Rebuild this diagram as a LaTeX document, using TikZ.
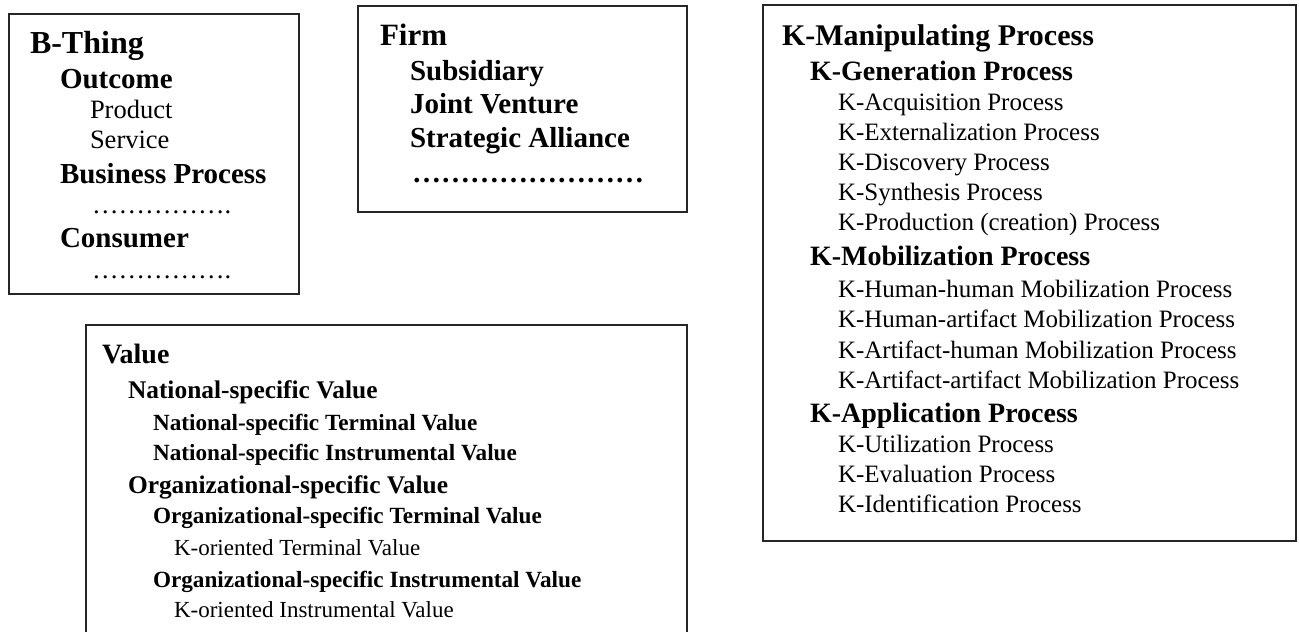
\documentclass[tikz,border=0pt]{standalone}
\usepackage{fontspec}
\setmainfont{Liberation Serif}
\newcommand{\elp}{\char"2026}
\begin{document}
\begin{tikzpicture}[x=1pt,y=-1pt,
  box/.style={draw=black!85,line width=1.5pt,anchor=north west,inner sep=0pt},
  lbl/.style={anchor=base west,inner sep=0pt,outer sep=0pt},
  hA/.style={lbl,font=\fontsize{32}{38}\selectfont\bfseries},
  hB/.style={lbl,font=\fontsize{29}{35}\selectfont\bfseries},
  hC/.style={lbl,font=\fontsize{26.5}{32}\selectfont},
  kA/.style={lbl,font=\fontsize{30}{36}\selectfont\bfseries},
  kB/.style={lbl,font=\fontsize{28}{34}\selectfont\bfseries},
  kC/.style={lbl,font=\fontsize{25}{30}\selectfont},
  vA/.style={lbl,font=\fontsize{28}{34}\selectfont\bfseries},
  vB/.style={lbl,font=\fontsize{25.4}{30}\selectfont\bfseries},
  vC/.style={lbl,font=\fontsize{23.2}{28}\selectfont\bfseries},
  vD/.style={lbl,font=\fontsize{23}{28}\selectfont}]
\clip (0,0) rectangle (1299,632);
% boxes
\node[box,minimum width=290pt,minimum height=280pt] (bthingbox) at (8,13) {};
\node[box,minimum width=329pt,minimum height=206pt] (firmbox) at (357,5) {};
\node[box,minimum width=533pt,minimum height=536pt] (kbox) at (762,4) {};
\node[box,minimum width=601pt,minimum height=330pt] (valbox) at (85,324) {};
% B-Thing
\node[hA] (bt) at (30,53) {B-Thing};
\node[hB] (bt1) at (60,88) {Outcome};
\node[hC] (bt2) at (90,118) {Product};
\node[hC] (bt3) at (90,148) {Service};
\node[hB] (bt4) at (60,183) {Business Process};
\node[hC] (bt5) at (92,213) {\elp\elp\elp\elp\elp.};
\node[hB] (bt6) at (60,247) {Consumer};
\node[hC] (bt7) at (92,278) {\elp\elp\elp\elp\elp.};
% Firm
\node[lbl,font=\fontsize{31}{37}\selectfont\bfseries] (fm) at (380,45) {Firm};
\node[hB] (fm1) at (410,80) {Subsidiary};
\node[hB] (fm2) at (410,113) {Joint Venture};
\node[hB] (fm3) at (410,147) {Strategic Alliance};
\node[hB] (fm4) at (412,182) {\elp\elp\elp\elp\elp\elp\elp\elp};
% K-Manipulating
\node[kA] (km) at (782,45) {K-Manipulating Process};
\node[kB] (kg) at (810,80) {K-Generation Process};
\node[kC] (kg1) at (838,110) {K-Acquisition Process};
\node[kC] (kg2) at (838,140) {K-Externalization Process};
\node[kC] (kg3) at (838,170) {K-Discovery Process};
\node[kC] (kg4) at (838,200) {K-Synthesis Process};
\node[kC] (kg5) at (838,230) {K-Production (creation) Process};
\node[kB] (kmo) at (810,265) {K-Mobilization Process};
\node[kC] (kmo1) at (838,297) {K-Human-human Mobilization Process};
\node[kC] (kmo2) at (838,327) {K-Human-artifact Mobilization Process};
\node[kC] (kmo3) at (838,358) {K-Artifact-human Mobilization Process};
\node[kC] (kmo4) at (838,388) {K-Artifact-artifact Mobilization Process};
\node[kB] (ka) at (810,422) {K-Application Process};
\node[kC] (ka1) at (838,452) {K-Utilization Process};
\node[kC] (ka2) at (838,482) {K-Evaluation Process};
\node[kC] (ka3) at (838,512) {K-Identification Process};
% Value
\node[vA] (v) at (102,363) {Value};
\node[vB] (vn) at (128,398) {National-specific Value};
\node[vC] (vn1) at (153,430) {National-specific Terminal Value};
\node[vC] (vn2) at (153,460) {National-specific Instrumental Value};
\node[vB] (vo) at (128,493) {Organizational-specific Value};
\node[vC] (vo1) at (153,523) {Organizational-specific Terminal Value};
\node[vD] (vo1a) at (174,555) {K-oriented Terminal Value};
\node[vC] (vo2) at (153,587) {Organizational-specific Instrumental Value};
\node[vD] (vo2a) at (174,617) {K-oriented Instrumental Value};
\end{tikzpicture}
\end{document}
